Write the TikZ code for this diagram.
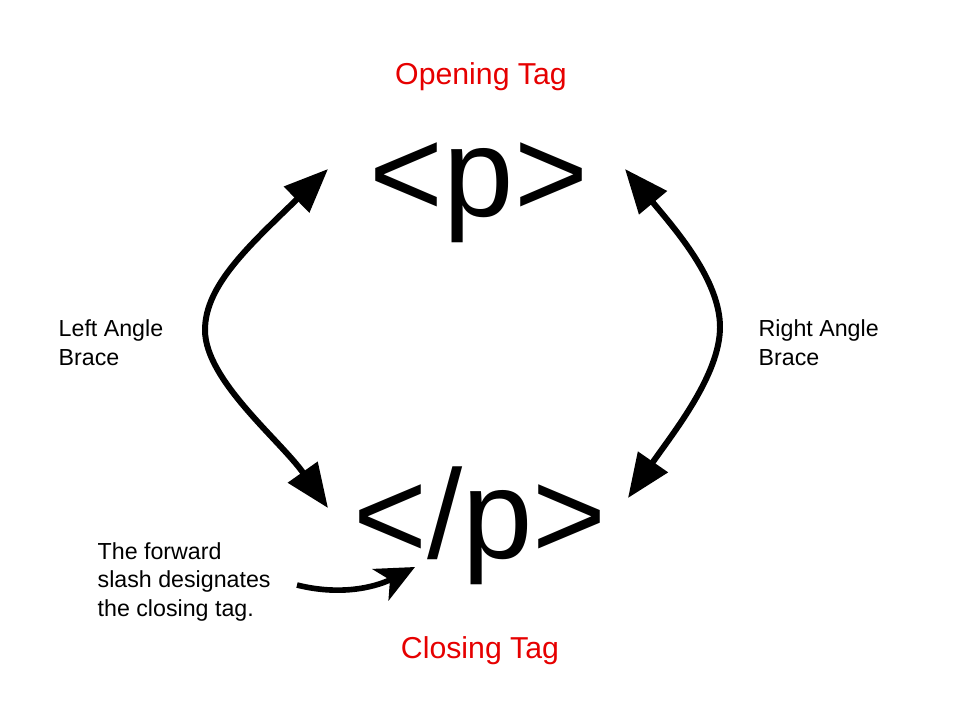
\documentclass[tikz,border=0pt]{standalone}
\usepackage{fontspec}
\setmainfont{Liberation Sans}
\usetikzlibrary{arrows.meta,positioning}
\definecolor{tagred}{RGB}{230,0,0}

\begin{document}
\begin{tikzpicture}[
  x=0.01cm,y=-0.01cm,
  tagtext/.style={inner sep=0pt,anchor=base,font=\fontsize{36}{43}\selectfont},
  tagtitle/.style={inner sep=0pt,anchor=base,text=tagred,font=\fontsize{8.6}{10}\selectfont},
  note/.style={inner sep=0pt,anchor=base west,align=left,font=\fontsize{6.6}{8.1}\selectfont},
  tagarrow/.style={{Triangle[length=12.5pt,width=10pt]}-{Triangle[length=12.5pt,width=10pt]},line width=1.7pt},
  notearrow/.style={-{Stealth[length=11pt,width=10pt,inset=3pt]},line width=1.6pt}]
  \useasboundingbox (0,0) rectangle (960,720);
  % tags and their titles
  \node[tagtitle] (opentitle) at (481,84) {Opening Tag};
  \node[tagtext] (open) at (479,216) {<p>};
  \node[tagtext] (close) at (480,558) {</p>};
  \node[tagtitle] (closetitle) at (480,658) {Closing Tag};
  % side labels (base is the last line)
  \node[note] (leftlbl) at (58,365) {Left Angle\\Brace};
  \node[note] (rightlbl) at (758,365) {Right Angle\\Brace};
  \node[note] (slashlbl) at (97,616) {The forward\\slash designates\\the closing tag.};
  % arrow ends
  \coordinate (ltop) at (328,169); \coordinate (lmid) at (205,330); \coordinate (lbot) at (328,508);
  \coordinate (rtop) at (625,169); \coordinate (rmid) at (720,327); \coordinate (rbot) at (628,498);
  \coordinate (slashstart) at (297,585); \coordinate (slashtip) at (415,567);
  \draw[tagarrow] (ltop) .. controls (250,245) and (205,285) .. (lmid) .. controls (205,380) and (280,440) .. (lbot);
  \draw[tagarrow] (rtop) .. controls (675,229) and (720,280) .. (rmid) .. controls (720,375) and (673,433) .. (rbot);
  \draw[notearrow] (slashstart) .. controls (345,597) and (380,585) .. (slashtip);
\end{tikzpicture}
\end{document}
